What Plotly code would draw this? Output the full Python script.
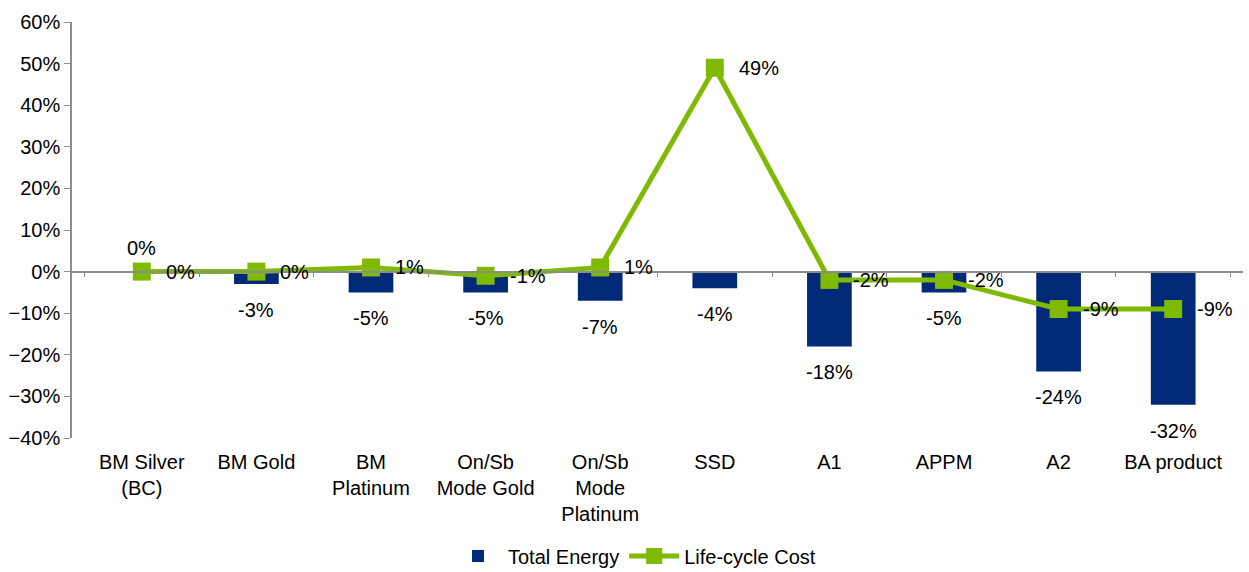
import plotly.graph_objects as go

# Change relative to the BM Silver (BC) baseline
categories = ["BM Silver<br>(BC)", "BM Gold", "BM<br>Platinum", "On/Sb<br>Mode Gold",
              "On/Sb<br>Mode<br>Platinum", "SSD", "A1", "APPM", "A2", "BA product"]
total_energy = [0.00, -0.03, -0.05, -0.05, -0.07, -0.04, -0.18, -0.05, -0.24, -0.32]
life_cycle_cost = [0.00, 0.00, 0.01, -0.01, 0.01, 0.49, -0.02, -0.02, -0.09, -0.09]
y_ticks = [-0.4, -0.3, -0.2, -0.1, 0.0, 0.1, 0.2, 0.3, 0.4, 0.5, 0.6]

NAVY = "#002A78"
GREEN = "#7FBA00"
AXIS = "#8C8C8C"
FONT = "Liberation Sans, Arial, sans-serif"
FS = 20

fig = go.Figure()

fig.add_trace(go.Bar(
    x=categories, y=total_energy, name="Total Energy",
    marker=dict(color=NAVY, line=dict(width=0)),
))

fig.add_trace(go.Scatter(
    x=categories, y=life_cycle_cost, name="Life-cycle Cost",
    mode="lines+markers",
    line=dict(color=GREEN, width=5),
    marker=dict(symbol="square", size=18, color=GREEN),
    cliponaxis=False,
))

# Secondary x axis drawn along y = 0 with category boundary ticks
fig.add_trace(go.Scatter(x=categories, y=[None] * len(categories), xaxis="x2",
                         showlegend=False, hoverinfo="skip"))

annotations = []
# Bar value labels: below negative bars, above the zero bar
for cat, v in zip(categories, total_energy):
    annotations.append(dict(
        x=cat, y=v, xref="x", yref="y", text=f"{v:.0%}", showarrow=False,
        xanchor="center", yanchor="middle", yshift=24 if v >= 0 else -26,
        font=dict(size=FS, color="#000000", family=FONT),
    ))
# Line value labels to the right of each marker
for cat, v in zip(categories, life_cycle_cost):
    annotations.append(dict(
        x=cat, y=v, xref="x", yref="y", text=f"{v:.0%}", showarrow=False,
        xanchor="left", yanchor="middle", xshift=22,
        font=dict(size=FS, color="#000000", family=FONT),
    ))

fig.update_layout(
    width=1249, height=572,
    margin=dict(l=72, r=6, t=22, b=134, autoexpand=False),
    paper_bgcolor="white", plot_bgcolor="white",
    font=dict(family=FONT, size=FS, color="#000000"),
    bargap=0.61,
    showlegend=True,
    annotations=annotations,
    legend=dict(orientation="h", xref="container", yref="container",
                x=0.508, xanchor="center", y=0.028, yanchor="middle",
                font=dict(size=FS), traceorder="normal", itemwidth=50),
    xaxis=dict(type="category", showline=False, ticks="", showgrid=False,
               zeroline=False, tickfont=dict(size=FS), ticklabelstandoff=10),
    xaxis2=dict(type="category", overlaying="x", anchor="free", position=0.4,
                matches="x", showline=True, linecolor=AXIS, linewidth=1.5,
                ticks="outside", tickson="boundaries", ticklen=5, tickcolor=AXIS,
                showticklabels=False, showgrid=False, zeroline=False),
    yaxis=dict(range=[-0.4, 0.6], tickvals=y_ticks, tickformat=".0%",
               showline=True, linecolor=AXIS, linewidth=1.5,
               ticks="outside", ticklen=6, tickcolor=AXIS,
               showgrid=False, zeroline=False, tickfont=dict(size=FS)),
)

fig.write_html("out.html")
